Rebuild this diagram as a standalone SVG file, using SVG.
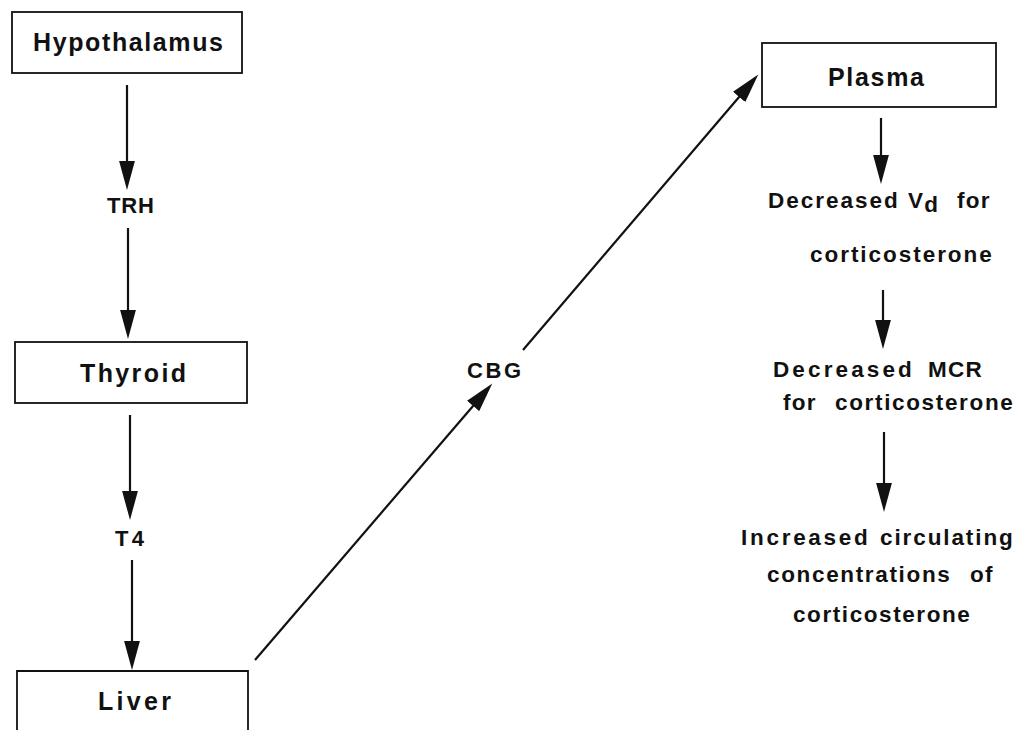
<svg xmlns="http://www.w3.org/2000/svg" width="1014" height="730" viewBox="0 0 1014 730">
<style>
.box{fill:#fff;stroke:#111;stroke-width:1.8}
.lbl{font-family:"Liberation Sans",Arial,Helvetica,sans-serif;font-weight:bold;fill:#111}
.bl{font-size:25px}
.ml{font-size:22px}
.rl{font-size:22.5px;letter-spacing:1.2px}
.ln{stroke:#111;stroke-width:2.2;fill:none;marker-end:url(#ah)}
</style>
<defs>
<marker id="ah" markerUnits="userSpaceOnUse" markerWidth="30" markerHeight="18" viewBox="0 0 28 16" refX="7" refY="8" orient="auto">
<path d="M0,0.5 L27.5,8 L0,15.5 Z" fill="#111"/>
</marker>
</defs>
<rect width="1014" height="730" fill="#fff"/>
<g id="connectors">
<line class="ln" x1="127" y1="85" x2="127" y2="168"/>
<line class="ln" x1="128" y1="228" x2="128" y2="317"/>
<line class="ln" x1="130" y1="415" x2="130" y2="498"/>
<line class="ln" x1="132" y1="560" x2="132" y2="648"/>
<line class="ln" x1="255" y1="660" x2="478" y2="400.2"/>
<line class="ln" x1="523" y1="350" x2="744" y2="91.2"/>
<line class="ln" x1="881" y1="118" x2="881" y2="162"/>
<line class="ln" x1="883" y1="290" x2="883" y2="327"/>
<line class="ln" x1="884" y1="432" x2="884" y2="490"/>
</g>
<g id="hypothalamus">
<rect class="box" x="12" y="12" width="230" height="61"/>
<text class="lbl bl" x="33" y="51" textLength="190" lengthAdjust="spacing">Hypothalamus</text>
</g>
<g id="trh">
<text class="lbl ml" x="107" y="213" textLength="47" lengthAdjust="spacing">TRH</text>
</g>
<g id="thyroid">
<rect class="box" x="15" y="342" width="232" height="61"/>
<text class="lbl bl" x="80" y="382" textLength="106" lengthAdjust="spacing">Thyroid</text>
</g>
<g id="t4">
<text class="lbl ml" x="115" y="546" textLength="29" lengthAdjust="spacing">T4</text>
</g>
<g id="liver">
<path class="box" d="M17,740 V671 H248 V740"/>
<text class="lbl bl" x="98" y="710" textLength="73" lengthAdjust="spacing">Liver</text>
</g>
<g id="cbg">
<text class="lbl ml" x="467" y="378" textLength="54" lengthAdjust="spacing">CBG</text>
</g>
<g id="plasma">
<rect class="box" x="762" y="43" width="234" height="64"/>
<text class="lbl bl" x="828" y="86" textLength="96" lengthAdjust="spacing">Plasma</text>
</g>
<g id="decreased-vd">
<text class="lbl rl" y="208"><tspan x="768" textLength="131" lengthAdjust="spacing">Decreased</tspan><tspan x="908">V</tspan><tspan dy="4">d</tspan><tspan x="957" dy="-4">for</tspan></text>
<text class="lbl rl" x="810" y="262" textLength="183" lengthAdjust="spacing">corticosterone</text>
</g>
<g id="decreased-mcr">
<text class="lbl rl" y="377"><tspan x="773" textLength="140" lengthAdjust="spacing">Decreased</tspan><tspan x="928">MCR</tspan></text>
<text class="lbl rl" y="410"><tspan x="783">for</tspan><tspan x="835" textLength="179" lengthAdjust="spacing">corticosterone</tspan></text>
</g>
<g id="increased">
<text class="lbl rl" y="545"><tspan x="741" textLength="128" lengthAdjust="spacing">Increased</tspan><tspan x="880" textLength="134" lengthAdjust="spacing">circulating</tspan></text>
<text class="lbl rl" y="582"><tspan x="767" textLength="184" lengthAdjust="spacing">concentrations</tspan><tspan x="970">of</tspan></text>
<text class="lbl rl" x="793" y="622" textLength="178" lengthAdjust="spacing">corticosterone</text>
</g>
</svg>
